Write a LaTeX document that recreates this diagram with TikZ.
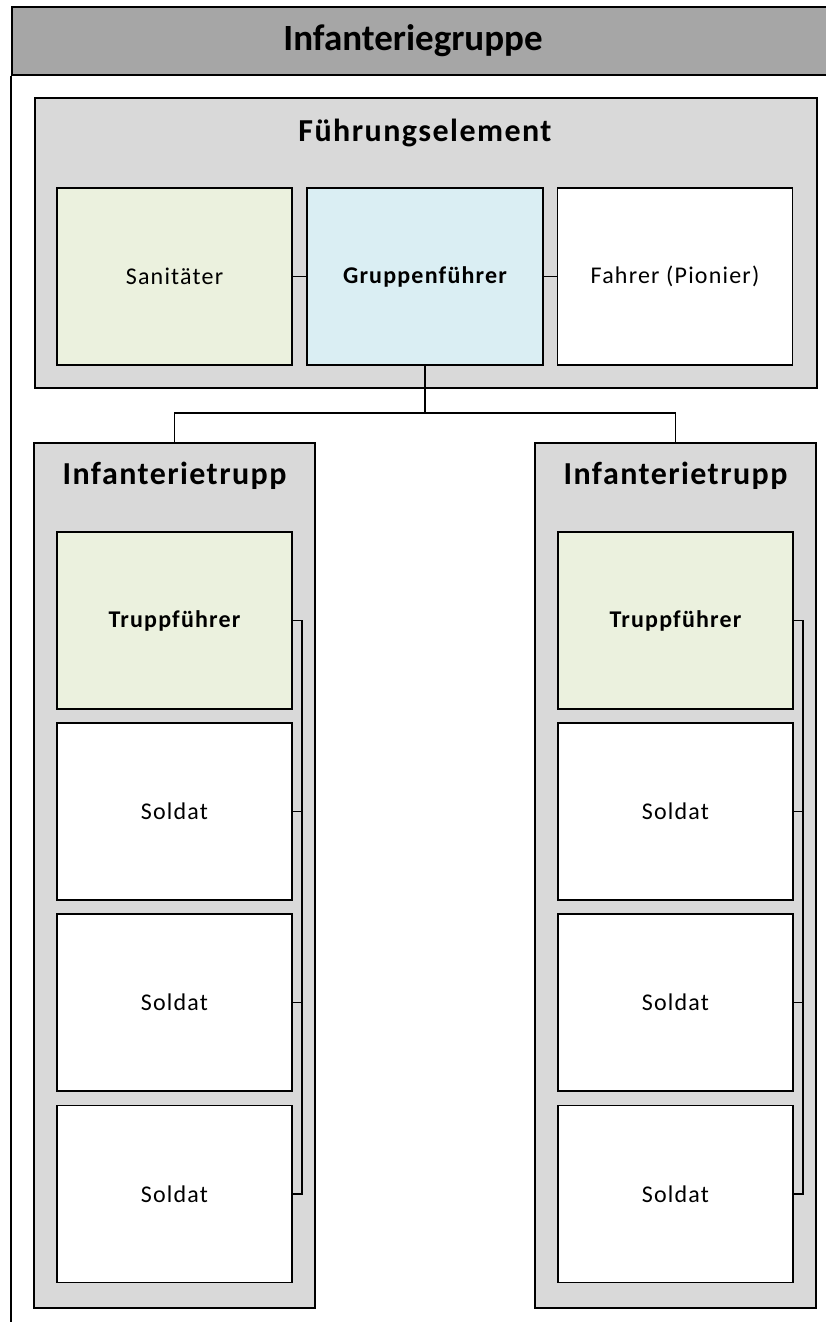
\documentclass[tikz,border=0pt]{standalone}
\usepackage{fontspec}
\newfontfamily\carlito{Carlito}
\newfontfamily\carlitotitle{Carlito}[LetterSpace=4.5]
\newfontfamily\carlitobox{Carlito}[LetterSpace=5]
\definecolor{hdrgray}{HTML}{A6A6A6}
\definecolor{grpgray}{HTML}{D9D9D9}
\definecolor{leadgreen}{HTML}{EBF1DE}
\definecolor{chiefblue}{HTML}{DAEEF3}
\tikzset{
  every node/.style={font=\carlito},
  frameline/.style={line width=1.6pt},
  header/.style={draw, frameline, fill=hdrgray, inner sep=0pt, anchor=north west},
  groupbox/.style={draw, frameline, fill=grpgray, inner sep=0pt},
  unitbox/.style={draw, frameline, fill=white, inner sep=0pt,
    minimum width=235pt, minimum height=177pt, font=\carlitobox\fontsize{24}{28}\selectfont},
  leadbox/.style={unitbox, fill=leadgreen, font=\carlitobox\bfseries\fontsize{24}{28}\selectfont},
  chiefbox/.style={unitbox, fill=chiefblue, font=\carlitobox\bfseries\fontsize{24}{28}\selectfont},
  grouptitle/.style={font=\carlitotitle\bfseries\fontsize{32}{36}\selectfont},
  link/.style={line width=1.5pt},
}
\begin{document}
\begin{tikzpicture}[x=1pt, y=-1pt]
\useasboundingbox (0,0) rectangle (826,1322);
\clip (0,0) rectangle (826,1322);
\fill[white] (0,0) rectangle (826,1322);

% page header and left frame line
\node[header, minimum width=840pt, minimum height=68pt] (hdr) at (11,6) {};
\node[font=\carlito\bfseries\fontsize{37}{41}\selectfont] (hdrtitle) at (413,41) {Infanteriegruppe};
\coordinate (frameend) at (11,1330);
\draw[frameline] (hdr.south west) -- (frameend);

% command element
\node[groupbox, minimum width=782pt, minimum height=290pt, anchor=north west] (fuehrung) at (34,97) {};
\node[grouptitle] (fuehrungtitle) at (425,133) {Führungselement};
\node[leadbox, font=\carlitobox\fontsize{24}{28}\selectfont] (san) at (174.5,276.5) {Sanitäter};
\node[chiefbox, minimum width=236pt] (gf) at (425,276.5) {Gruppenführer};
\node[unitbox] (fahrer) at (675,276.5) {Fahrer (Pionier)};
\draw[link] (san.east) -- (gf.west);
\draw[link] (gf.east) -- (fahrer.west);

% the two infantry squads
\node[groupbox, minimum width=281pt, minimum height=865pt, anchor=north] (truppL) at (174.5,442) {};
\node[groupbox, minimum width=281pt, minimum height=865pt, anchor=north] (truppR) at (675.5,442) {};
\node[grouptitle] (titleL) at (174.5,476) {Infanterietrupp};
\node[grouptitle] (titleR) at (675.5,476) {Infanterietrupp};

\coordinate (split) at (425,413);
\draw[link] (gf.south) -- (split) -| (truppL.north);
\draw[link] (split) -| (truppR.north);

\foreach \side/\cx/\bx in {L/174.5/302, R/675.5/803} {
  \node[leadbox] (tf\side) at (\cx,620.5) {Truppführer};
  \node[unitbox] (sa\side) at (\cx,811.5) {Soldat};
  \node[unitbox] (sb\side) at (\cx,1002.5) {Soldat};
  \node[unitbox] (sc\side) at (\cx,1194) {Soldat};
  \coordinate (bus\side) at (\bx,0);
  \draw[link] (tf\side.east) -- (tf\side.east -| bus\side) -- (sc\side.east -| bus\side) -- (sc\side.east);
  \draw[link] (sa\side.east) -- (sa\side.east -| bus\side);
  \draw[link] (sb\side.east) -- (sb\side.east -| bus\side);
}
\end{tikzpicture}
\end{document}
